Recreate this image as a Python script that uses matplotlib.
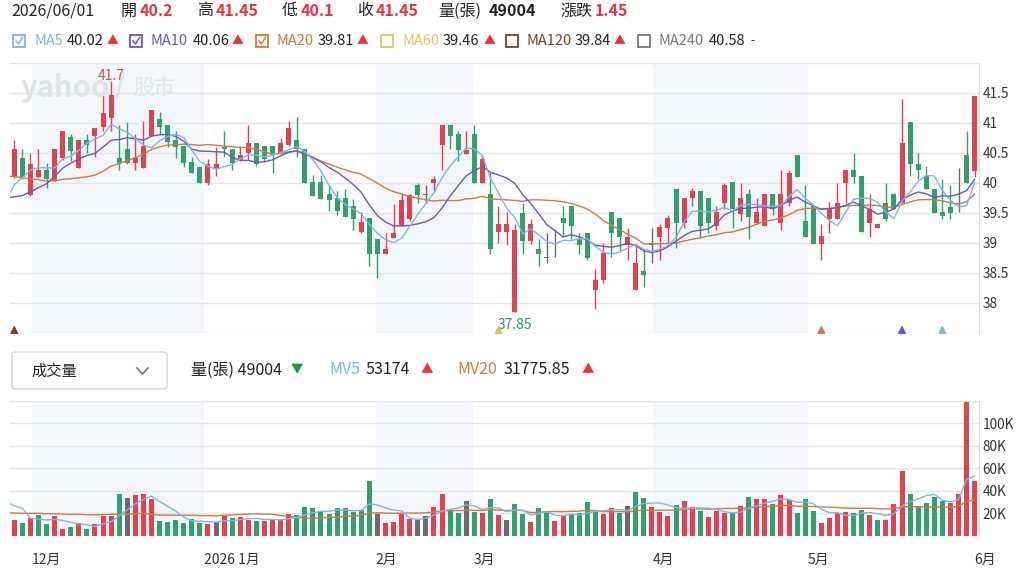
import numpy as np
import pandas as pd
import matplotlib
matplotlib.use("Agg")
import matplotlib.pyplot as plt
from matplotlib.patches import Rectangle, FancyBboxPatch
from matplotlib.lines import Line2D

plt.rcParams["font.family"] = ["Noto Sans CJK TC", "DejaVu Sans"]

# daily candles, last 120 trading days up to 2026/06/01
opens = [40.10, 40.41, 39.80, 40.10, 40.21, 40.04, 40.41, 40.77, 40.25, 40.71,
         40.79, 40.94, 41.08, 40.41, 40.56, 40.34, 40.25, 40.79, 41.07, 40.96,
         40.71, 40.61, 40.35, 40.26, 40.00, 40.25, 40.60, 40.56, 40.36, 40.50,
         40.66, 40.61, 40.61, 40.50, 40.64, 40.71, 40.56, 40.01, 40.02, 39.81,
         39.75, 39.75, 39.61, 39.19, 39.42, 39.06, 38.81, 39.09, 39.29, 39.40,
         39.96, 39.80, 40.00, 40.64, 40.96, 40.81, 40.49, 40.81, 40.00, 39.81,
         39.19, 39.19, 37.85, 39.50, 39.04, 38.90, 38.75, 39.01, 39.42, 39.61,
         39.06, 39.16, 38.21, 38.39, 39.51, 39.42, 38.96, 38.21, 38.53, 38.97,
         39.10, 39.25, 39.90, 39.34, 39.75, 39.86, 39.75, 39.29, 39.66, 40.01,
         39.49, 39.81, 39.34, 39.29, 39.81, 39.34, 39.66, 40.47, 39.36, 39.61,
         38.99, 39.40, 39.40, 40.00, 40.21, 40.11, 39.34, 39.25, 39.66, 39.81,
         39.66, 41.01, 40.32, 40.11, 39.90, 39.52, 39.60, 39.65, 40.46, 40.20]
highs = [40.72, 40.57, 40.50, 40.57, 40.34, 40.57, 40.86, 40.81, 40.71, 40.81,
         40.92, 41.46, 41.70, 40.96, 41.01, 40.81, 41.04, 41.22, 41.19, 40.96,
         40.86, 40.61, 40.44, 40.26, 40.40, 40.60, 40.86, 40.56, 40.61, 40.96,
         40.66, 40.61, 40.61, 40.75, 41.04, 41.10, 40.56, 40.14, 40.14, 39.97,
         39.86, 39.90, 39.73, 39.51, 39.42, 39.06, 39.17, 39.65, 39.81, 39.81,
         40.00, 39.96, 40.11, 40.96, 40.96, 40.86, 40.86, 40.96, 40.47, 40.19,
         39.61, 39.51, 39.31, 39.66, 39.40, 39.06, 39.16, 39.21, 39.61, 39.61,
         39.16, 39.16, 38.56, 39.00, 39.51, 39.42, 39.25, 38.99, 38.89, 39.25,
         39.31, 39.46, 39.90, 39.75, 39.92, 39.86, 39.75, 39.61, 40.00, 40.01,
         40.00, 39.90, 39.75, 39.81, 39.81, 40.21, 40.21, 40.47, 39.96, 39.61,
         39.31, 39.69, 40.00, 40.21, 40.50, 40.11, 39.81, 39.31, 40.00, 39.84,
         41.40, 41.01, 40.50, 40.29, 39.90, 40.06, 39.96, 40.25, 40.86, 41.45]
lows = [40.08, 40.06, 39.79, 40.08, 39.92, 40.04, 40.39, 40.36, 40.25, 40.50,
        40.44, 40.86, 40.86, 40.22, 40.31, 40.22, 40.25, 40.79, 40.81, 40.60,
        40.41, 40.27, 40.16, 40.00, 39.97, 40.11, 40.44, 40.22, 40.36, 40.39,
        40.28, 40.36, 40.16, 40.49, 40.61, 40.44, 40.00, 39.79, 39.73, 39.54,
        39.46, 39.44, 39.21, 39.17, 38.61, 38.42, 38.81, 39.09, 39.29, 39.36,
        39.66, 39.67, 39.86, 40.21, 40.57, 40.36, 40.49, 40.00, 40.00, 38.81,
        39.00, 38.96, 37.85, 38.81, 38.99, 38.61, 38.66, 38.77, 39.11, 39.06,
        38.81, 38.72, 37.90, 38.34, 38.77, 38.86, 38.71, 38.21, 38.27, 38.66,
        38.71, 39.00, 38.92, 39.25, 39.61, 39.08, 39.17, 39.22, 39.57, 39.25,
        39.36, 39.06, 39.31, 39.29, 39.46, 39.21, 39.61, 40.10, 39.10, 38.99,
        38.71, 39.16, 39.40, 39.66, 40.00, 39.19, 39.10, 39.25, 39.36, 39.56,
        39.66, 40.11, 40.07, 39.90, 39.50, 39.40, 39.40, 39.51, 40.00, 40.10]
closes = [40.57, 40.10, 40.32, 40.21, 40.06, 40.57, 40.86, 40.54, 40.71, 40.64,
          40.92, 41.16, 41.46, 40.34, 40.34, 40.41, 40.61, 41.22, 40.94, 40.69,
          40.60, 40.34, 40.16, 40.00, 40.32, 40.32, 40.56, 40.34, 40.46, 40.66,
          40.31, 40.40, 40.49, 40.66, 40.92, 40.56, 40.00, 39.79, 39.73, 39.71,
          39.54, 39.44, 39.40, 39.35, 38.81, 38.81, 38.90, 39.16, 39.72, 39.80,
          39.80, 39.80, 40.07, 40.96, 40.79, 40.55, 40.55, 40.00, 40.40, 38.90,
          39.31, 39.31, 39.21, 39.04, 39.31, 38.81, 38.75, 39.01, 39.34, 39.29,
          38.96, 38.75, 38.38, 38.84, 39.16, 39.10, 39.10, 38.67, 38.46, 38.97,
          39.27, 39.42, 39.34, 39.75, 39.86, 39.29, 39.34, 39.51, 39.96, 39.56,
          39.75, 39.44, 39.51, 39.81, 39.56, 39.81, 40.17, 40.10, 39.10, 38.99,
          39.11, 39.57, 39.66, 40.21, 40.10, 39.19, 39.56, 39.31, 39.40, 39.56,
          40.66, 40.31, 40.21, 39.90, 39.50, 39.45, 39.50, 39.65, 40.00, 41.45]
# volume in thousands of 張
volumes = [14.3, 11.3, 15.5, 18.5, 10.4, 17.4, 6.3, 7.4, 11.3, 6.3,
           10.4, 17.4, 17.4, 37.2, 33.4, 36.3, 37.2, 32.4, 13.1, 12.2,
           14.3, 11.3, 15.2, 11.3, 10.4, 12.2, 17.4, 15.5, 16.4, 14.3,
           13.1, 13.1, 15.2, 14.3, 19.4, 18.5, 25.3, 24.4, 21.4, 19.4,
           24.4, 24.4, 21.4, 23.2, 48.5, 19.4, 11.3, 12.2, 19.4, 15.2,
           14.3, 17.4, 25.3, 37.2, 23.2, 20.2, 31.2, 21.4, 20.2, 32.5,
           18.5, 14.3, 28.3, 19.4, 12.2, 24.4, 22.3, 13.1, 17.4, 19.4,
           20.2, 30.4, 21.4, 19.4, 24.4, 20.2, 26.5, 39.3, 33.4, 25.3,
           21.4, 17.4, 27.4, 31.2, 25.3, 22.3, 16.4, 22.3, 20.2, 20.2,
           26.2, 34.2, 32.5, 32.5, 28.3, 36.3, 31.5, 20.2, 32.5, 22.3,
           11.3, 16.1, 20.2, 21.4, 20.2, 23.2, 18.5, 14.3, 14.3, 28.3,
           57.5, 37.2, 26.2, 29.2, 34.2, 31.2, 29.2, 37.2, 119.3, 49.004]

# days before the window, only needed to start the moving averages
earlier_closes = [40.6, 40.6, 40.55, 40.6, 40.5, 40.45, 40.4, 40.35, 40.4, 40.3,
                  40.35, 39.9, 39.7, 39.5, 39.4, 39.35, 39.5, 39.7, 40.0, 40.08]
earlier_volumes = [17, 17, 16, 18, 17, 17.1, 12, 13, 12, 12.6,
                   12, 13, 12, 33, 34, 32.8, 21.8, 60, 21.5, 14.9]

month_labels = ["12月", "2026 1月", "2月", "3月", "4月", "5月", "6月"]
month_edges = [2.15, 23.45, 44.8, 56.9, 79.1, 98.3, 119.0]

signal_idx = [0, 60, 100, 110, 115]

ma_names = ["MA5", "MA10", "MA20", "MA60", "MA120", "MA240"]
ma_values = ["40.02", "40.06", "39.81", "39.46", "39.84", "40.58"]
ma_arrows = ["▲", "▲", "▲", "▲", "▲", "-"]
ma_checked = [True, True, True, False, False, False]

RED = "#e0434f"
GREEN = "#31a06c"
GRAY = "#6b6b6b"
C_MA5 = "#7fb5e8"
C_MA10 = "#6a55cf"
C_MA20 = "#d9773c"
C_MA60 = "#e6c35c"
C_MA120 = "#8c3b1f"
C_MA240 = "#7a7a7a"
ma_colors = [C_MA5, C_MA10, C_MA20, C_MA60, C_MA120, C_MA240]
signal_colors = [C_MA120, C_MA60, C_MA20, C_MA10, C_MA5]

W, H = 1019, 579
fig = plt.figure(figsize=(W / 100, H / 100), dpi=100)


def ftext(x, y, s, **kw):
    kw.setdefault("va", "center")
    kw.setdefault("fontsize", 10.5)
    kw.setdefault("color", "#222222")
    fig.text(x / W, 1 - y / H, s, **kw)


ax = fig.add_axes([10 / W, 1 - 333 / H, 969 / W, 270 / H])
axv = fig.add_axes([10 / W, 1 - 535.7 / H, 969 / W, 134.7 / H])

n = len(closes)
x = np.arange(n)
xall = np.arange(-len(earlier_closes), n)

for a in (ax, axv):
    a.set_xlim(-0.53, 119.54)
    for s in a.spines.values():
        s.set_visible(False)
    a.spines["right"].set_visible(True)
    a.spines["right"].set_color("#dcdcdc")
    a.tick_params(axis="x", bottom=False, labelbottom=False)
    a.yaxis.tick_right()
    a.tick_params(axis="y", length=0, pad=2.5, labelsize=9.8, colors="#333333")
    for k in (0, 2, 4):
        a.axvspan(month_edges[k], month_edges[k + 1], color="#f3f6fa", zorder=0, lw=0)

# price panel
ax.set_ylim(37.5, 42.0)
for v in np.arange(37.5, 42.01, 0.5):
    ax.axhline(v, color="#e6e6e6", lw=1, zorder=0.5)
ticks = np.arange(38, 41.51, 0.5)
ax.set_yticks(ticks)
ax.set_yticklabels([f"{t:g}" for t in ticks])

o = np.array(opens)
c = np.array(closes)
cols = [RED if cc > oo else GREEN if cc < oo else GRAY for oo, cc in zip(o, c)]
ax.vlines(x, lows, highs, colors=cols, lw=1, zorder=2)
ax.bar(x, np.maximum(np.abs(c - o), 0.012), bottom=np.minimum(o, c), width=0.62,
       color=cols, zorder=2, lw=0)

sc = pd.Series(earlier_closes + closes)
for win, col in ((20, C_MA20), (10, C_MA10), (5, C_MA5)):
    ax.plot(xall, sc.rolling(win).mean().values, color=col, lw=1.0, zorder=3)

ax.scatter(signal_idx, [37.55] * len(signal_idx), marker="^", s=22,
           color=signal_colors, zorder=4, clip_on=False)
ax.text(12, 41.79, "41.7", color=RED, fontsize=10, ha="center", va="center", zorder=5)
ax.text(59.9, 37.63, "37.85", color="#1f9a5a", fontsize=10, ha="left", va="center")

# watermark
ftext(21, 88, "yahoo", fontsize=21, fontweight="bold", color="#dfe2e6", style="italic", zorder=0)
ftext(115, 85, "/", fontsize=20, fontweight="bold", color="#dfe2e6", zorder=0)
ftext(133, 88, "股市", fontsize=15, color="#dfe2e6", zorder=0)

# volume panel
axv.set_ylim(0, 120)
for v in range(0, 121, 20):
    axv.axhline(v, color="#e6e6e6", lw=1, zorder=0.5)
axv.set_yticks([20, 40, 60, 80, 100])
axv.set_yticklabels([f"{t}K" for t in (20, 40, 60, 80, 100)])
prev = [earlier_closes[-1]] + closes[:-1]
vcols = [RED if cc > pp else GREEN if cc < pp else GRAY for cc, pp in zip(closes, prev)]
axv.bar(x, volumes, width=0.62, color=vcols, zorder=2, lw=0)
sv = pd.Series(earlier_volumes + volumes)
axv.plot(xall, sv.rolling(20).mean().values, color=C_MA20, lw=1.0, zorder=3)
axv.plot(xall, sv.rolling(5).mean().values, color=C_MA5, lw=1.0, zorder=3)

for e, lab in zip(month_edges, month_labels):
    axv.text(e, -0.18, lab, transform=axv.get_xaxis_transform(), ha="left",
             va="center", fontsize=10, color="#333333")

# header line
HS = 11.5
ftext(11, 11, "2026/06/01", fontsize=HS)
for xp, lab, xv, val in ((121, "開", 140, "40.2"), (197, "高", 216, "41.45"),
                         (282, "低", 301, "40.1"), (357, "收", 376, "41.45"),
                         (560, "漲跌", 595, "1.45")):
    ftext(xp, 11, lab, fontsize=HS)
    ftext(xv, 11, val, color="#e8333d", fontweight="bold", fontsize=HS)
ftext(438, 11, "量(張)", fontsize=HS)
ftext(489, 11, "49004", fontweight="bold", fontsize=HS)

# MA legend row
box_x = [13, 130, 256, 381, 506, 638]
name_x = [34, 151, 276, 402, 527, 659]
val_x = [67, 193, 318, 443, 575, 709]
arrow_x = [107, 232, 357, 484, 614, 750]
for i in range(len(ma_names)):
    col = ma_colors[i]
    x0 = box_x[i]
    fig.add_artist(Rectangle((x0 / W, 1 - 47 / H), 12 / W, 12 / H, transform=fig.transFigure,
                             facecolor="white", edgecolor=col, lw=1.3))
    if ma_checked[i]:
        fig.add_artist(Line2D([(x0 + 3) / W, (x0 + 5.5) / W, (x0 + 9.5) / W],
                              [1 - 41 / H, 1 - 44 / H, 1 - 37.5 / H], color=col, lw=1.1))
    ftext(name_x[i], 41, ma_names[i], color=col, fontsize=10.5)
    ftext(val_x[i], 41, ma_values[i], fontsize=10.5)
    ftext(arrow_x[i], 41, ma_arrows[i], fontsize=8.5,
          color="#e8333d" if ma_arrows[i] == "▲" else "#333333")

# volume header
fig.add_artist(FancyBboxPatch((12 / W, 1 - 389 / H), 155 / W, 37 / H, transform=fig.transFigure,
                              boxstyle="round,pad=0,rounding_size=0.004",
                              facecolor="white", edgecolor="#d4d4d4", lw=1))
ftext(31, 371, "成交量", fontsize=11)
fig.add_artist(Line2D([137 / W, 142.5 / W, 148 / W], [1 - 368 / H, 1 - 374 / H, 1 - 368 / H],
                      color="#666666", lw=1.1))
ftext(191, 370, "量(張) 49004", fontsize=11.5)
ftext(291, 370, "▼", fontsize=9, color="#1a9a50")
ftext(329, 370, "MV5", fontsize=11.5, color=C_MA5)
ftext(366, 370, "53174", fontsize=11.5)
ftext(421, 370, "▲", fontsize=9, color="#e8333d")
ftext(457, 370, "MV20", fontsize=11.5, color=C_MA20)
ftext(504, 370, "31775.85", fontsize=11.5)
ftext(582, 370, "▲", fontsize=9, color="#e8333d")

fig.savefig("out.png", dpi=100)
